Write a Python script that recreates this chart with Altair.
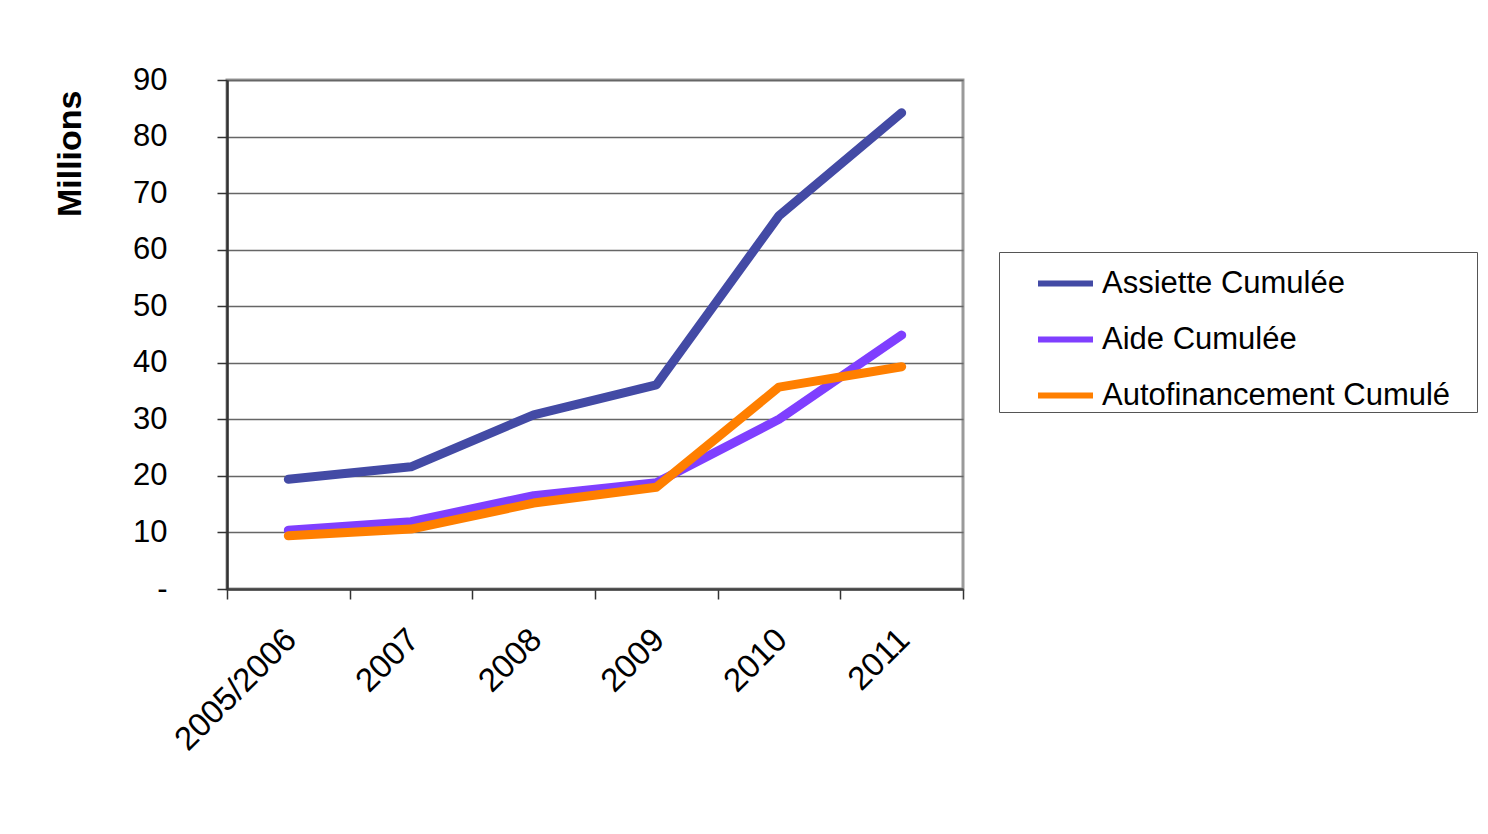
import altair as alt
import pandas as pd

categories = ["2005/2006", "2007", "2008", "2009", "2010", "2011"]
assiette = [19.4, 21.6, 30.8, 36.1, 66.0, 84.2]
aide = [10.4, 11.9, 16.5, 18.8, 30.0, 44.9]
autofin = [9.4, 10.6, 15.2, 18.0, 35.7, 39.3]
series_names = ["Assiette Cumulée", "Aide Cumulée", "Autofinancement Cumulé"]
colors = ["#434AA5", "#7F3FFF", "#FF7F00"]
y_ticks = [0, 10, 20, 30, 40, 50, 60, 70, 80, 90]

rows = []
for name, vals in zip(series_names, [assiette, aide, autofin]):
    for c, v in zip(categories, vals):
        rows.append({"Année": c, "Valeur": v, "Série": name})
df = pd.DataFrame(rows)

FONT = "Liberation Sans"

chart = alt.Chart(df).mark_line(
    strokeWidth=9, strokeCap="round", strokeJoin="round"
).encode(
    x=alt.X(
        "Année:N",
        sort=categories,
        scale=alt.Scale(type="band", paddingInner=0, paddingOuter=0),
        axis=alt.Axis(
            title=None, labelAngle=-45, labelAlign="right", labelBaseline="top",
            labelFontSize=33, labelFont=FONT, labelColor="black",
            tickBand="extent", tickSize=10, tickColor="#333", tickWidth=1.5,
            domainColor="#444", domainWidth=2.5, labelPadding=24, labelOffset=-9,
            grid=False,
        ),
    ),
    y=alt.Y(
        "Valeur:Q",
        scale=alt.Scale(domain=[0, 90], nice=False),
        axis=alt.Axis(
            values=y_ticks, title="Millions",
            labelExpr="datum.value == 0 ? '-' : datum.label",
            labelFontSize=31, labelFont=FONT, labelColor="black", labelPadding=50,
            tickSize=10, tickColor="#333", tickWidth=1.5,
            domainColor="#333", domainWidth=2.5,
            grid=True, gridColor="#666666", gridWidth=1.5,
            titleFontSize=34, titleFont=FONT, titleFontWeight="bold", titleColor="black",
            titleAngle=270, titleX=-157, titleY=10, titleAlign="right", titleBaseline="middle",
        ),
    ),
    color=alt.Color(
        "Série:N",
        scale=alt.Scale(domain=series_names, range=colors),
        legend=alt.Legend(
            title=None,
            orient="none", legendX=772, legendY=172, direction="vertical",
            symbolType="stroke", symbolSize=3025, symbolStrokeWidth=6,
            labelFontSize=31, labelFont=FONT, labelColor="black", labelLimit=700,
            labelExpr="datum.label + '\u00a0\u00a0\u00a0\u200b'",
            strokeColor="#555", fillColor="white", padding=1, rowPadding=10,
            symbolOffset=35, labelOffset=6,
        ),
    ),
).properties(
    width=736, height=509,
    autosize=alt.AutoSizeParams(type="none"),
    padding={"left": 219, "top": 72, "right": 517, "bottom": 230},
).configure(
    font=FONT,
).configure_view(
    stroke="#9a9a9a", strokeWidth=3,
)

chart.save("out.html", embed_options={"renderer": "svg", "actions": False})
